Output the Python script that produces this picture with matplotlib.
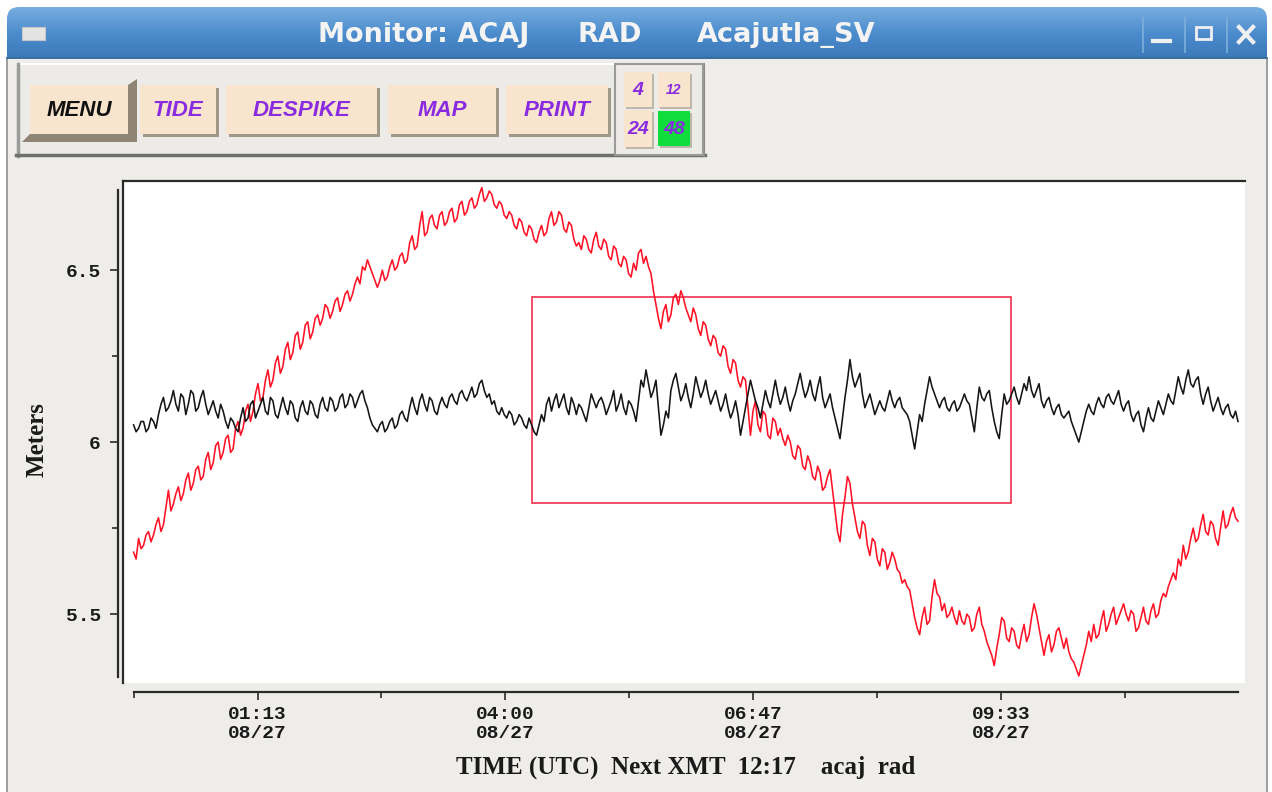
import matplotlib.pyplot as plt
import numpy as np
from matplotlib.patches import Rectangle, FancyBboxPatch, Polygon
from matplotlib.colors import LinearSegmentedColormap

# RAD sea level at Acajutla (m), one sample every ~1.7 min, 23:50 08/26 -> 12:13 08/27 UTC
sea_level = [
    5.68, 5.66, 5.72, 5.69, 5.70, 5.73, 5.74, 5.71, 5.73, 5.76, 5.78, 5.74, 5.76, 5.81, 5.86, 5.80, 5.82, 5.85, 5.87, 5.83,
    5.85, 5.89, 5.91, 5.86, 5.88, 5.92, 5.93, 5.89, 5.90, 5.95, 5.97, 5.92, 5.94, 5.99, 6.00, 5.95, 5.97, 6.01, 6.02, 5.97,
    5.98, 6.04, 6.06, 6.02, 6.04, 6.09, 6.11, 6.06, 6.09, 6.14, 6.17, 6.12, 6.13, 6.18, 6.21, 6.16, 6.18, 6.23, 6.25, 6.20,
    6.22, 6.27, 6.29, 6.24, 6.26, 6.31, 6.32, 6.27, 6.29, 6.34, 6.35, 6.30, 6.32, 6.36, 6.37, 6.34, 6.36, 6.40, 6.39, 6.36,
    6.38, 6.41, 6.42, 6.38, 6.40, 6.43, 6.44, 6.41, 6.43, 6.46, 6.48, 6.46, 6.51, 6.50, 6.53, 6.51, 6.49, 6.47, 6.45, 6.47,
    6.50, 6.47, 6.48, 6.51, 6.53, 6.50, 6.51, 6.54, 6.55, 6.52, 6.53, 6.58, 6.60, 6.56, 6.57, 6.63, 6.67, 6.60, 6.61, 6.65,
    6.66, 6.63, 6.62, 6.66, 6.67, 6.63, 6.64, 6.67, 6.68, 6.64, 6.65, 6.69, 6.70, 6.66, 6.67, 6.70, 6.71, 6.68, 6.69, 6.72,
    6.74, 6.70, 6.71, 6.73, 6.72, 6.69, 6.68, 6.70, 6.69, 6.66, 6.65, 6.67, 6.66, 6.63, 6.62, 6.65, 6.64, 6.61, 6.60, 6.63,
    6.62, 6.59, 6.58, 6.61, 6.63, 6.60, 6.61, 6.65, 6.67, 6.63, 6.64, 6.67, 6.66, 6.62, 6.61, 6.64, 6.63, 6.59, 6.57, 6.58,
    6.56, 6.60, 6.59, 6.56, 6.55, 6.59, 6.61, 6.57, 6.56, 6.59, 6.58, 6.54, 6.53, 6.57, 6.56, 6.52, 6.51, 6.54, 6.53, 6.49,
    6.48, 6.52, 6.50, 6.55, 6.56, 6.52, 6.54, 6.51, 6.49, 6.44, 6.40, 6.36, 6.33, 6.38, 6.40, 6.35, 6.37, 6.42, 6.43, 6.40,
    6.44, 6.42, 6.39, 6.37, 6.35, 6.39, 6.37, 6.33, 6.31, 6.35, 6.34, 6.30, 6.28, 6.31, 6.30, 6.26, 6.25, 6.28, 6.27, 6.22,
    6.20, 6.24, 6.23, 6.18, 6.16, 6.19, 6.18, 6.10, 6.02, 6.09, 6.12, 6.05, 6.03, 6.09, 6.08, 6.02, 6.01, 6.07, 6.06, 6.02,
    6.04, 6.01, 5.99, 6.02, 6.00, 5.96, 5.95, 5.99, 5.98, 5.93, 5.92, 5.96, 5.94, 5.90, 5.89, 5.93, 5.91, 5.86, 5.87, 5.90,
    5.92, 5.86, 5.80, 5.74, 5.71, 5.79, 5.84, 5.90, 5.88, 5.82, 5.78, 5.74, 5.72, 5.77, 5.76, 5.70, 5.67, 5.72, 5.71, 5.66,
    5.64, 5.69, 5.68, 5.63, 5.65, 5.68, 5.66, 5.63, 5.62, 5.59, 5.60, 5.58, 5.57, 5.53, 5.49, 5.46, 5.44, 5.49, 5.52, 5.47,
    5.48, 5.55, 5.60, 5.56, 5.55, 5.51, 5.53, 5.49, 5.50, 5.52, 5.49, 5.47, 5.51, 5.48, 5.47, 5.50, 5.49, 5.45, 5.46, 5.50,
    5.52, 5.47, 5.45, 5.42, 5.40, 5.38, 5.35, 5.40, 5.44, 5.49, 5.48, 5.43, 5.42, 5.46, 5.45, 5.41, 5.40, 5.44, 5.47, 5.42,
    5.44, 5.49, 5.53, 5.50, 5.46, 5.42, 5.38, 5.42, 5.44, 5.39, 5.41, 5.45, 5.46, 5.43, 5.40, 5.43, 5.39, 5.37, 5.36, 5.34,
    5.32, 5.35, 5.38, 5.41, 5.45, 5.42, 5.47, 5.43, 5.44, 5.48, 5.51, 5.45, 5.47, 5.50, 5.52, 5.47, 5.49, 5.51, 5.53, 5.50,
    5.48, 5.51, 5.50, 5.45, 5.46, 5.49, 5.52, 5.48, 5.47, 5.51, 5.53, 5.49, 5.50, 5.54, 5.56, 5.55, 5.58, 5.60, 5.62, 5.60,
    5.66, 5.64, 5.70, 5.66, 5.68, 5.72, 5.75, 5.71, 5.72, 5.76, 5.79, 5.74, 5.73, 5.77, 5.76, 5.72, 5.70, 5.75, 5.80, 5.75,
    5.76, 5.79, 5.81, 5.78, 5.77,
]

# de-tided residual, offset to the mean level (m)
residual = [
    6.05, 6.03, 6.04, 6.06, 6.06, 6.03, 6.04, 6.07, 6.06, 6.04, 6.08, 6.11, 6.13, 6.09, 6.10, 6.12, 6.15, 6.11, 6.09, 6.14,
    6.13, 6.08, 6.11, 6.15, 6.14, 6.09, 6.10, 6.13, 6.15, 6.11, 6.08, 6.10, 6.12, 6.09, 6.07, 6.11, 6.09, 6.06, 6.04, 6.07,
    6.06, 6.04, 6.03, 6.07, 6.10, 6.06, 6.07, 6.11, 6.12, 6.07, 6.09, 6.11, 6.13, 6.09, 6.08, 6.13, 6.12, 6.08, 6.07, 6.10,
    6.13, 6.10, 6.08, 6.12, 6.11, 6.07, 6.06, 6.10, 6.12, 6.09, 6.08, 6.12, 6.11, 6.08, 6.07, 6.11, 6.13, 6.10, 6.09, 6.13,
    6.12, 6.09, 6.10, 6.13, 6.14, 6.10, 6.11, 6.14, 6.13, 6.10, 6.12, 6.14, 6.15, 6.12, 6.10, 6.07, 6.05, 6.04, 6.03, 6.05,
    6.06, 6.03, 6.04, 6.06, 6.07, 6.04, 6.05, 6.08, 6.09, 6.07, 6.06, 6.10, 6.13, 6.10, 6.08, 6.12, 6.14, 6.11, 6.09, 6.13,
    6.12, 6.09, 6.08, 6.11, 6.13, 6.11, 6.10, 6.13, 6.14, 6.12, 6.11, 6.14, 6.15, 6.13, 6.12, 6.14, 6.16, 6.13, 6.14, 6.17,
    6.18, 6.15, 6.13, 6.14, 6.11, 6.12, 6.09, 6.08, 6.10, 6.08, 6.07, 6.09, 6.08, 6.05, 6.06, 6.08, 6.07, 6.05, 6.04, 6.07,
    6.05, 6.03, 6.02, 6.05, 6.08, 6.06, 6.11, 6.13, 6.09, 6.12, 6.14, 6.10, 6.12, 6.14, 6.10, 6.08, 6.13, 6.11, 6.08, 6.11,
    6.10, 6.08, 6.06, 6.10, 6.14, 6.12, 6.10, 6.12, 6.13, 6.11, 6.08, 6.10, 6.12, 6.15, 6.09, 6.11, 6.14, 6.10, 6.08, 6.12,
    6.11, 6.09, 6.06, 6.12, 6.18, 6.16, 6.21, 6.17, 6.13, 6.15, 6.18, 6.10, 6.02, 6.05, 6.09, 6.07, 6.15, 6.18, 6.20, 6.16,
    6.12, 6.14, 6.17, 6.13, 6.10, 6.14, 6.19, 6.16, 6.13, 6.15, 6.18, 6.14, 6.11, 6.13, 6.15, 6.12, 6.09, 6.11, 6.14, 6.10,
    6.07, 6.09, 6.12, 6.08, 6.02, 6.06, 6.10, 6.14, 6.18, 6.15, 6.12, 6.10, 6.07, 6.11, 6.15, 6.12, 6.10, 6.14, 6.18, 6.14,
    6.11, 6.13, 6.16, 6.12, 6.09, 6.12, 6.14, 6.17, 6.20, 6.16, 6.13, 6.15, 6.18, 6.14, 6.12, 6.16, 6.19, 6.13, 6.10, 6.12,
    6.14, 6.10, 6.07, 6.04, 6.01, 6.07, 6.13, 6.18, 6.24, 6.19, 6.16, 6.18, 6.20, 6.14, 6.10, 6.12, 6.14, 6.11, 6.08, 6.10,
    6.12, 6.10, 6.09, 6.12, 6.15, 6.12, 6.10, 6.12, 6.13, 6.10, 6.09, 6.08, 6.06, 6.02, 5.98, 6.03, 6.08, 6.06, 6.11, 6.15,
    6.19, 6.16, 6.14, 6.12, 6.10, 6.12, 6.13, 6.10, 6.09, 6.11, 6.12, 6.09, 6.10, 6.12, 6.14, 6.12, 6.11, 6.07, 6.03, 6.10,
    6.16, 6.13, 6.12, 6.14, 6.15, 6.10, 6.06, 6.03, 6.01, 6.08, 6.14, 6.11, 6.12, 6.14, 6.16, 6.13, 6.11, 6.14, 6.17, 6.15,
    6.19, 6.15, 6.13, 6.15, 6.17, 6.12, 6.10, 6.12, 6.13, 6.10, 6.08, 6.10, 6.11, 6.08, 6.07, 6.08, 6.09, 6.06, 6.04, 6.02,
    6.00, 6.03, 6.06, 6.09, 6.11, 6.09, 6.08, 6.11, 6.13, 6.11, 6.10, 6.13, 6.14, 6.12, 6.11, 6.13, 6.15, 6.11, 6.09, 6.11,
    6.12, 6.08, 6.06, 6.08, 6.09, 6.05, 6.03, 6.07, 6.10, 6.07, 6.06, 6.09, 6.12, 6.10, 6.08, 6.11, 6.14, 6.12, 6.11, 6.15,
    6.19, 6.16, 6.14, 6.18, 6.21, 6.17, 6.16, 6.18, 6.19, 6.14, 6.11, 6.14, 6.16, 6.12, 6.09, 6.11, 6.13, 6.10, 6.08, 6.10,
    6.11, 6.08, 6.07, 6.09, 6.06,
]

# time axis in hours from 00:00 08/27 UTC
t_first = -10 / 60
t_last = 12.21
x_ticks = [1.2222, 4.0, 6.7778, 9.5556]
x_ticklabels = ["01:13\n08/27", "04:00\n08/27", "06:47\n08/27", "09:33\n08/27"]
x_minor = [-0.1667, 2.6111, 5.3889, 8.1667, 10.9444]
y_ticks = [5.5, 6.0, 6.5]
y_ticklabels = ["5.5", "6", "6.5"]
y_minor = [5.75, 6.25]
y_range = (5.317, 6.733)

# zoom selection box (hours, meters)
box_time = (4.30, 9.664)
box_level = (5.822, 6.423)

buttons = ["MENU", "TIDE", "DESPIKE", "MAP", "PRINT"]
windows = ["4", "12", "24", "48"]

W, H = 1272, 792
fig = plt.figure(figsize=(W / 100, H / 100), dpi=100, facecolor="white")

# ---- window decoration (pixel coordinates) ----
ui = fig.add_axes([0, 0, 1, 1], zorder=0)
ui.set_xlim(0, W)
ui.set_ylim(H, 0)
ui.axis("off")

bar_cmap = LinearSegmentedColormap.from_list("bar", ["#78aee0", "#4d8dcd", "#3c79ba"])
grad = np.linspace(0, 1, 64).reshape(-1, 1)
im = ui.imshow(grad, extent=(7, 1267, 58, 7), aspect="auto", cmap=bar_cmap, zorder=1)
clip = FancyBboxPatch((7, 7), 1260, 80, boxstyle="round,pad=0,rounding_size=12",
                      fc="none", ec="none", transform=ui.transData)
ui.add_patch(clip)
im.set_clip_path(clip)
ui.add_patch(Rectangle((7, 58), 1260, 740, fc="#eeedea", ec="#8e8e8e", lw=1.2, zorder=2))
ui.plot([7, 1267], [58, 58], color="#2f679f", lw=1.2, zorder=3)

ui.add_patch(Rectangle((22, 27), 23, 13, fc="#e4e4e4", ec="#c8c8c8", lw=0.8, zorder=3))
title_kw = dict(color="#f4f4f4", fontsize=19.5, fontweight="bold", family="DejaVu Sans",
                va="center", ha="left", zorder=3)
ui.text(318, 35, "Monitor: ACAJ", **title_kw)
ui.text(578, 35, "RAD", **title_kw)
ui.text(697, 35, "Acajutla_SV", **title_kw)

for sx in (1143, 1185, 1227):
    ui.plot([sx, sx], [18, 52], color="#7fb0de", lw=1.2, zorder=3)
ui.plot([1153, 1170], [41, 41], color="#f0f0f0", lw=3, zorder=3)
ui.add_patch(Rectangle((1196, 27), 15, 12, fc="none", ec="#f0f0f0", lw=2, zorder=3))
ui.plot([1239, 1253], [27, 42], color="#f0f0f0", lw=3, zorder=3)
ui.plot([1239, 1253], [42, 27], color="#f0f0f0", lw=3, zorder=3)

# button panel
ui.add_patch(Rectangle((16, 64), 689, 92, fc="#edebe7", ec="none", zorder=3))
ui.plot([16, 705], [64, 64], color="#ffffff", lw=1.5, zorder=4)
ui.plot([18, 18], [64, 156], color="#9a9a9a", lw=2.5, zorder=4)
ui.plot([16, 705], [155, 155], color="#6f6f6f", lw=2.5, zorder=4)
ui.plot([704, 704], [64, 156], color="#8a8a8a", lw=1.5, zorder=4)

btn_x = [(30, 128), (140, 216), (226, 377), (388, 496), (506, 608)]
for label, (x0, x1) in zip(buttons, btn_x):
    y0, y1 = 85, 134
    if label == "MENU":
        ui.add_patch(Polygon([(x1, y0), (x1 + 9, y0 - 6), (x1 + 9, y1 + 8), (x0 - 8, y1 + 8),
                              (x0, y1), (x1, y1)], fc="#8e8574", ec="none", zorder=4))
        color = "#111111"
    else:
        ui.add_patch(Rectangle((x0 + 3, y0 + 3), x1 - x0, y1 - y0, fc="#a09886", ec="none", zorder=4))
        color = "#8a2be2"
    ui.add_patch(Rectangle((x0, y0), x1 - x0, y1 - y0, fc="#f9e5cd", ec="none", zorder=5))
    ui.text((x0 + x1) / 2, (y0 + y1) / 2 + 1, label, color=color, fontsize=16, fontweight="bold",
            style="italic", family="Liberation Sans", ha="center", va="center", zorder=6)

# time-window selector
ui.add_patch(Rectangle((615, 64), 88, 91, fc="#edebe7", ec="#9a9a9a", lw=1.5, zorder=6))
cells = [(624, 72, 652, 107), (658, 72, 690, 107), (624, 110, 652, 147), (658, 111, 690, 146)]
for label, (x0, y0, x1, y1) in zip(windows, cells):
    active = label == "48"
    ui.add_patch(Rectangle((x0 + 2, y0 + 2), x1 - x0, y1 - y0, fc="#bdb6aa", ec="none", zorder=7))
    ui.add_patch(Rectangle((x0, y0), x1 - x0, y1 - y0, fc="#10dc3c" if active else "#f9e5cd",
                           ec="none", zorder=8))
    ui.text((x0 + x1) / 2, (y0 + y1) / 2 + 1, label, color="#8a2be2",
            fontsize=10 if label == "12" else 14, fontweight="bold", style="italic",
            family="Liberation Sans", ha="center", va="center", zorder=9)

# ---- plot ----
frame = fig.add_axes([123 / W, (H - 683) / H, (1245 - 123) / W, (683 - 181) / H], zorder=1)
frame.set_facecolor("white")
frame.set_xticks([])
frame.set_yticks([])
for side in ("right", "bottom"):
    frame.spines[side].set_visible(False)
for side in ("left", "top"):
    frame.spines[side].set_color("#2a2a2a")
    frame.spines[side].set_linewidth(1.6)

ax = fig.add_axes([133.6 / W, (H - 677) / H, (1238 - 133.6) / W, (677 - 190) / H], zorder=2)
ax.set_facecolor("none")

ax.plot(np.linspace(t_first, t_last, len(sea_level)), sea_level, color="#ff1226", lw=1.15, clip_on=False)
ax.plot(np.linspace(t_first, t_last, len(residual)), residual, color="#151515", lw=1.15, clip_on=False)
ax.add_patch(Rectangle((box_time[0], box_level[0]), box_time[1] - box_time[0],
                       box_level[1] - box_level[0], fill=False, ec="#f2405e", lw=1.3))

ax.set_xlim(t_first, t_last)
ax.set_ylim(*y_range)

for side in ("top", "right"):
    ax.spines[side].set_visible(False)
ax.spines["left"].set_position(("outward", 11.5))
ax.spines["bottom"].set_position(("outward", 10.8))
for side in ("left", "bottom"):
    ax.spines[side].set_color("#2a2a2a")
    ax.spines[side].set_linewidth(1.6)

tick_font = dict(fontfamily="Liberation Mono", fontweight="bold", fontsize=14)
ax.set_xticks(x_ticks, labels=x_ticklabels, **tick_font)
ax.set_xticks(x_minor, minor=True)
ax.set_yticks(y_ticks, labels=y_ticklabels, **tick_font)
ax.set_yticks(y_minor, minor=True)
for lab in ax.get_xticklabels():
    lab.set_linespacing(1.2)
ax.tick_params(which="major", length=6, width=1.2, color="#2a2a2a", labelcolor="#1a1a1a")
ax.tick_params(which="minor", length=4, width=1.2, color="#2a2a2a")
ax.tick_params(axis="x", pad=4)
ax.tick_params(axis="y", pad=6)

label_font = dict(fontfamily="Liberation Serif", fontweight="bold", fontsize=18, color="#1a1a1a")
ax.set_xlabel("TIME (UTC)  Next XMT  12:17    acaj  rad", **label_font)
ax.xaxis.set_label_coords(0.5, -0.162)
ax.set_ylabel("Meters", **label_font)
ax.yaxis.set_label_coords(-0.077, 0.487)

fig.savefig("out.png", dpi=100, facecolor=fig.get_facecolor())
